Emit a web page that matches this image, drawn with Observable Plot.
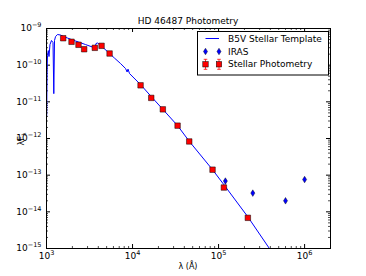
<!DOCTYPE html>
<html>
<head>
<meta charset="utf-8">
<script src="https://cdn.jsdelivr.net/npm/d3@7"></script>
<script src="https://cdn.jsdelivr.net/npm/@observablehq/plot@0.6"></script>
<style>
  html, body { margin: 0; padding: 0; background: white; }
  #chart { width: 366px; height: 276px; }
</style>
</head>
<body>
<div id="chart"></div>
<script>
// ---- Data ----
const templateWave = [1005, 1016, 1027, 1049, 1069, 1098, 1143, 1190, 1216, 1239, 1273, 1342, 1455, 1576, 1755, 2005, 2355, 2840, 3427, 3660, 3760, 3915, 4136, 4610, 5260, 6170, 7250, 8300, 8650, 8860, 9230, 12400, 16500, 22500, 33400, 45600, 85100, 115300, 219000, 392000, 526000];
const templateFlux = [4.2e-12, 7.1e-11, 1.83e-10, 2.5e-10, 1.72e-10, 3.66e-10, 4.7e-10, 4.14e-10, 1.67e-11, 4.7e-10, 6.0e-10, 6.86e-10, 6.64e-10, 6.04e-10, 5.5e-10, 4.85e-10, 4.28e-10, 3.65e-10, 3.12e-10, 2.93e-10, 3.89e-10, 4.02e-10, 3.65e-10, 2.93e-10, 2.21e-10, 1.56e-10, 1.11e-10, 8.08e-11, 6.5e-11, 7.8e-11, 5.9e-11, 2.95e-11, 1.39e-11, 6.24e-12, 2.24e-12, 8.4e-13, 1.41e-13, 5.5e-14, 7.3e-15, 9.8e-16, 3.8e-16];

const photWave = [1563, 1954, 2355, 2740, 3645, 4365, 5410, 12400, 16500, 22500, 33400, 45600, 85100, 115300, 219000];
const photFlux = [5.43e-10, 4.34e-10, 3.59e-10, 2.72e-10, 2.97e-10, 3.37e-10, 2.08e-10, 2.82e-11, 1.28e-11, 6.24e-12, 2.24e-12, 8.3e-13, 1.41e-13, 4.6e-14, 6.86e-15];

const irasWave = [120000, 250000, 600000, 1000000];
const irasFlux = [6.9e-14, 3.24e-14, 2.0e-14, 7.6e-14];

const xTickValues = [1e3, 1e4, 1e5, 1e6];
const yTickValues = [1e-15, 1e-14, 1e-13, 1e-12, 1e-11, 1e-10, 1e-9];
const seriesLabels = ["B5V Stellar Template", "IRAS", "Stellar Photometry"];
const titleText = "HD 46487 Photometry";
const xLabel = "λ (Å)";

// ---- Build tables ----
const template = templateWave.map((w, i) => ({w, f: templateFlux[i]}));
const phot = photWave.map((w, i) => ({w, f: photFlux[i]}));
const iras = irasWave.map((w, i) => ({w, f: irasFlux[i]}));

const xMinor = [];
for (let e = 3; e <= 6; e++) for (let m = 2; m <= 9; m++) { const v = m * 10 ** e; if (v <= 2e6) xMinor.push(v); }
const yMinor = [];
for (let e = -15; e <= -10; e++) for (let m = 2; m <= 9; m++) yMinor.push(m * 10 ** e);

const W = 366, H = 276;
const mL = 46, mR = 36, mT = 28, mB = 28;
const fw = W - mL - mR, fh = H - mT - mB;

const thinDiamond = {
  draw(ctx, size) {
    const r = Math.sqrt(size / Math.PI);
    ctx.moveTo(0, -r); ctx.lineTo(0.62 * r, 0); ctx.lineTo(0, r); ctx.lineTo(-0.62 * r, 0); ctx.closePath();
  }
};

const sup = e => "10^" + Math.round(Math.log10(e));

const plot = Plot.plot({
  width: W, height: H,
  marginLeft: mL, marginRight: mR, marginTop: mT, marginBottom: mB,
  style: {background: "white", fontFamily: "DejaVu Sans", fontSize: "9px", color: "black", overflow: "visible"},
  x: {type: "log", domain: [1e3, 2e6]},
  y: {type: "log", domain: [1e-15, 1e-9]},
  marks: [
    Plot.axisX(xTickValues, {anchor: "bottom", tickSize: 0, tickPadding: 4, tickFormat: sup, label: null, fontSize: 9}),
    Plot.axisY(yTickValues, {anchor: "left", tickSize: 0, tickPadding: 5, tickFormat: sup, label: null, fontSize: 9}),
    // inward ticks on all sides
    Plot.tickX(xTickValues, {x: d => d, stroke: "black", insetTop: fh - 4}),
    Plot.tickX(xTickValues, {x: d => d, stroke: "black", insetBottom: fh - 4}),
    Plot.tickX(xMinor, {x: d => d, stroke: "black", strokeWidth: 0.7, insetTop: fh - 2}),
    Plot.tickX(xMinor, {x: d => d, stroke: "black", strokeWidth: 0.7, insetBottom: fh - 2}),
    Plot.tickY(yTickValues, {y: d => d, stroke: "black", insetRight: fw - 4}),
    Plot.tickY(yTickValues, {y: d => d, stroke: "black", insetLeft: fw - 4}),
    Plot.tickY(yMinor, {y: d => d, stroke: "black", strokeWidth: 0.7, insetRight: fw - 2}),
    Plot.tickY(yMinor, {y: d => d, stroke: "black", strokeWidth: 0.7, insetLeft: fw - 2}),
    Plot.line(template, {x: "w", y: "f", stroke: "#0000ff", strokeWidth: 1, clip: true}),
    Plot.dot(iras, {x: "w", y: "f", symbol: thinDiamond, r: 3.3, fill: "#0000ff", stroke: "black", strokeWidth: 0.4}),
    Plot.dot(phot, {x: "w", y: "f", symbol: "square", r: 3.1, fill: "#ff0000", stroke: "black", strokeWidth: 0.5}),
    Plot.frame({stroke: "black", strokeWidth: 1})
  ]
});

document.getElementById("chart").appendChild(plot);

// superscripts on tick labels
const svg = d3.select(plot);
svg.selectAll("text").each(function() {
  const t = this.textContent;
  const m = /^10\^(-?\d+)$/.exec(t);
  if (!m) return;
  const sel = d3.select(this);
  sel.text(null);
  sel.append("tspan").text("10");
  sel.append("tspan").attr("dy", "-4").style("font-size", "6.5px").text(m[1].replace("-", "\u2212"));
});

function addText(parent, x, y, anchor, size, txt) {
  return parent.append("text").attr("x", x).attr("y", y).attr("text-anchor", anchor)
    .style("font-size", size).attr("fill", "black").text(txt);
}

// title
addText(svg, mL + fw / 2, 23.5, "middle", "9px", titleText);
// x label
addText(svg, mL + fw / 2, 268.5, "middle", "8px", xLabel);
// y label λF_λ
const yg = svg.append("g").attr("transform", "translate(24,139) rotate(-90)");
const yl = yg.append("text").attr("x", 0).attr("y", 0).attr("text-anchor", "middle")
  .style("font-size", "8px").attr("fill", "black");
yl.append("tspan").text("λF");
yl.append("tspan").attr("dy", "2").style("font-size", "6px").text("λ");

// legend
const lg = svg.append("g");
lg.append("rect").attr("x", 197.5).attr("y", 31.5).attr("width", 131).attr("height", 43.5)
  .attr("fill", "white").attr("stroke", "black").attr("stroke-width", 1);
const rows = [38.5, 51.5, 64.3];
const hx0 = 205.5, hx1 = 219;
lg.append("line").attr("x1", hx0).attr("x2", hx1).attr("y1", rows[0]).attr("y2", rows[0])
  .attr("stroke", "#0000ff").attr("stroke-width", 1);
const dpath = d3.path(); thinDiamond.draw(dpath, Math.PI * 3.3 * 3.3);
for (const hx of [hx0, hx1]) {
  lg.append("path").attr("d", dpath.toString()).attr("transform", `translate(${hx},${rows[1]})`)
    .attr("fill", "#0000ff").attr("stroke", "black").attr("stroke-width", 0.4);
  lg.append("line").attr("x1", hx).attr("x2", hx).attr("y1", rows[2] - 5).attr("y2", rows[2] + 5).attr("stroke", "red").attr("stroke-width", 0.8);
  lg.append("line").attr("x1", hx - 1.8).attr("x2", hx + 1.8).attr("y1", rows[2] - 5).attr("y2", rows[2] - 5).attr("stroke", "red").attr("stroke-width", 0.8);
  lg.append("line").attr("x1", hx - 1.8).attr("x2", hx + 1.8).attr("y1", rows[2] + 5).attr("y2", rows[2] + 5).attr("stroke", "red").attr("stroke-width", 0.8);
  lg.append("rect").attr("x", hx - 2.7).attr("y", rows[2] - 2.7).attr("width", 5.4).attr("height", 5.4)
    .attr("fill", "#ff0000").attr("stroke", "black").attr("stroke-width", 0.5);
}
seriesLabels.forEach((s, i) => {
  addText(lg, 228, rows[i], "start", "9px", s).attr("dy", "0.35em");
});
</script>
</body>
</html>
